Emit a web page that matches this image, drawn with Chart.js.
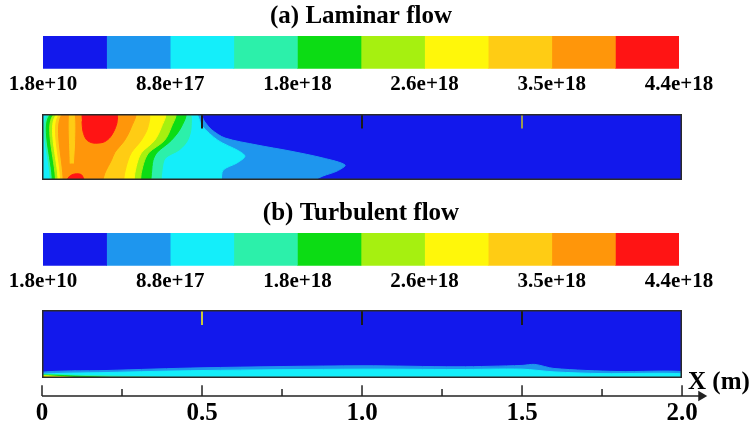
<!DOCTYPE html>
<html>
<head>
<meta charset="utf-8">
<title>Laminar vs turbulent flow</title>
<script src="https://cdn.jsdelivr.net/npm/chart.js@4.4.1/dist/chart.umd.min.js"></script>
<style>
  body { margin: 0; background: #fff; }
  #wrap { position: relative; width: 755px; height: 432px; overflow: hidden; background: #fff; }
  #wrap canvas { position: absolute; }
</style>
</head>
<body>
<div id="wrap">
  <canvas id="barA" width="755" height="100" style="left:0;top:0"></canvas>
  <canvas id="lamField" width="640" height="66" style="left:42px;top:114px"></canvas>
  <canvas id="barB" width="755" height="100" style="left:0;top:197px"></canvas>
  <canvas id="turbField" width="640" height="68" style="left:42px;top:310px"></canvas>
  <canvas id="axisX" width="755" height="72" style="left:0;top:360px"></canvas>
</div>
<script>
// ─── Data ────────────────────────────────────────────────────────────────────
const titles = ['(a) Laminar flow', '(b) Turbulent flow'];
const levelEdges = [1.8e10, 4.4e17, 8.8e17, 1.32e18, 1.76e18, 2.2e18, 2.64e18, 3.08e18, 3.52e18, 3.96e18, 4.4e18];
const levelTicks = [1.8e10, 8.8e17, 1.76e18, 2.64e18, 3.52e18, 4.4e18];
const levelTickLabels = ['1.8e+10', '8.8e+17', '1.8e+18', '2.6e+18', '3.5e+18', '4.4e+18'];
const bandColors = ['#1218ec', '#1e96ee', '#14eefa', '#2cf0aa', '#0cdc14', '#a6f010', '#fff70a', '#ffcc14', '#ff960a', '#ff1414'];

const axisTicks = [0, 0.5, 1.0, 1.5, 2.0];
const axisLabels = ['0', '0.5', '1.0', '1.5', '2.0'];
const minorTicks = [0.25, 0.75, 1.25, 1.75];
const axisName = 'X (m)';
const probeX = [0.5, 1.0, 1.5];

// contour bands, [x (m), y (fraction of height)]
const fieldBg = [[-0.01, -0.01], [-0.01, 1.01], [2.01, 1.01], [2.01, -0.01]];

const lamBand2 = [[-0.01, -0.01], [-0.01, 1.01], [0.49, 1.01], [0.509, 0.879], [0.531, 0.758], [0.572, 0.636], [0.672, 0.53], [0.775, 0.439], [0.878, 0.333], [0.947, 0.227], [0.922, 0.136], [0.878, 0.061], [0.847, -0.01]];
const lamBand3 = [[-0.01, -0.01], [-0.01, 1.01], [0.478, 1.01], [0.5, 0.82], [0.55, 0.6], [0.615, 0.44], [0.634, 0.36], [0.61, 0.26], [0.566, 0.15], [0.56, -0.01]];
const lamBand4 = [[0.026, -0.01], [0.026, 1.01], [0.458, 1.01], [0.466, 0.8], [0.455, 0.6], [0.43, 0.46], [0.385, 0.33], [0.375, 0.15], [0.372, -0.01]];
const lamBand5 = [[0.032, -0.01], [0.032, 1.01], [0.446, 1.01], [0.435, 0.8], [0.404, 0.6], [0.36, 0.42], [0.347, 0.3], [0.342, 0.1], [0.34, -0.01]];
const lamBand6 = [[0.042, -0.01], [0.042, 1.01], [0.415, 1.01], [0.404, 0.8], [0.383, 0.6], [0.335, 0.42], [0.321, 0.3], [0.31, 0.1], [0.308, -0.01]];
const lamBand7 = [[0.05, -0.01], [0.05, 1.01], [0.383, 1.01], [0.373, 0.8], [0.352, 0.6], [0.312, 0.42], [0.3, 0.3], [0.29, 0.1], [0.288, -0.01]];
const lamBand8 = [[0.058, -0.01], [0.058, 1.01], [0.331, 1.01], [0.331, 0.8], [0.31, 0.6], [0.28, 0.42], [0.269, 0.3], [0.258, 0.1], [0.255, -0.01]];
const lamBand9 = [[0.066, -0.01], [0.066, 1.01], [0.29, 1.01], [0.279, 0.8], [0.258, 0.6], [0.228, 0.42], [0.217, 0.3], [0.196, 0.1], [0.19, -0.01]];
const lamStripe = [[0.088, 0.25], [0.086, 1.01], [0.1, 1.01], [0.102, 0.6], [0.098, 0.25]];
const lamCore = [[0.123, 1.01], [0.232, 1.01], [0.235, 0.889], [0.227, 0.763], [0.211, 0.636], [0.191, 0.571], [0.159, 0.561], [0.139, 0.611], [0.128, 0.737], [0.125, 0.889]];
const lamFoot = [[0.076, -0.01], [0.086, 0.056], [0.102, 0.091], [0.123, 0.081], [0.133, -0.01]];

const turbBand2 = [[-0.01, -0.01], [-0.01, 0.08], [0.2, 0.11], [0.5, 0.15], [1.0, 0.18], [1.3, 0.165], [1.5, 0.185], [1.54, 0.2], [1.6, 0.14], [1.8, 0.095], [2.01, 0.09], [2.01, -0.01]];
const turbBand3 = [[-0.01, -0.01], [-0.01, 0.05], [0.2, 0.08], [0.5, 0.11], [1.0, 0.13], [1.3, 0.125], [1.5, 0.13], [1.6, 0.09], [1.75, 0.065], [2.01, 0.06], [2.01, -0.01]];
const turbBand4 = [[-0.01, -0.01], [-0.01, 0.05], [0.1, 0.04], [0.3, 0.02], [0.5, -0.01]];
const turbBand5 = [[-0.01, -0.01], [-0.01, 0.04], [0.12, 0.025], [0.3, -0.01]];
const turbBand7 = [[-0.01, -0.01], [-0.01, 0.03], [0.06, 0.02], [0.15, -0.01]];
const turbBand9 = [[-0.01, -0.01], [-0.01, 0.015], [0.05, -0.01]];

// [band index, polygon], painted bottom to top
const laminarShapes = [[0, fieldBg], [1, lamBand2], [2, lamBand3], [3, lamBand4], [4, lamBand5], [5, lamBand6],
    [6, lamBand7], [7, lamBand8], [8, lamBand9], [7, lamStripe], [9, lamCore], [9, lamFoot]];
const turbulentShapes = [[0, fieldBg], [1, turbBand2], [2, turbBand3], [3, turbBand4], [4, turbBand5], [6, turbBand7], [8, turbBand9]];

// ─── Defaults ────────────────────────────────────────────────────────────────
Chart.defaults.font.family = "'Liberation Serif', 'Times New Roman', serif";
Chart.defaults.font.weight = 'bold';
Chart.defaults.color = '#000';
Chart.defaults.animation = false;
Chart.defaults.responsive = false;
Chart.defaults.plugins.legend.display = false;
Chart.defaults.plugins.tooltip.enabled = false;

// ─── Colour bars ─────────────────────────────────────────────────────────────
function colorBar(id, title) {
    new Chart(document.getElementById(id), {
        type: 'bar',
        data: {
            labels: [''],
            datasets: bandColors.map((c, i) => ({
                data: [[levelEdges[i], levelEdges[i + 1]]],
                backgroundColor: c,
                borderWidth: 0,
                grouped: false,
                barPercentage: 1,
                categoryPercentage: 1
            }))
        },
        options: {
            indexAxis: 'y',
            layout: { padding: { left: 43, right: 76, top: 0, bottom: 0 } },
            plugins: {
                title: { display: true, text: title, font: { size: 25, weight: 'bold' }, padding: { top: 2, bottom: 4 } }
            },
            scales: {
                y: { display: false },
                x: {
                    type: 'linear',
                    min: levelEdges[0],
                    max: levelEdges[levelEdges.length - 1],
                    grid: { display: false, drawTicks: false },
                    border: { display: false },
                    afterBuildTicks: axis => { axis.ticks = levelTicks.map(v => ({ value: v })); },
                    ticks: { callback: (v, i) => levelTickLabels[i], font: { size: 21 }, padding: 3, maxRotation: 0, autoSkip: false }
                }
            }
        }
    });
}

// ─── Contour fields ──────────────────────────────────────────────────────────
const frame = {
    id: 'frame',
    afterDraw(chart) {
        const { ctx, chartArea: a } = chart;
        ctx.save();
        ctx.strokeStyle = '#2a2a2a';
        ctx.lineWidth = 1.5;
        ctx.strokeRect(a.left + 0.75, a.top + 0.75, a.width - 1.5, a.height - 1.5);
        ctx.restore();
    }
};

function field(id, shapes, probeColors) {
    const datasets = shapes.map(([band, pts], i) => ({
        data: pts.map(p => ({ x: p[0], y: p[1] })),
        showLine: true,
        fill: 'shape',
        backgroundColor: bandColors[band],
        borderColor: bandColors[band],
        borderWidth: 1,
        pointRadius: 0,
        tension: 0.3,
        order: shapes.length + 5 - i
    }));
    probeX.forEach((x, i) => datasets.push({
        data: [{ x, y: 1 }, { x, y: 0.78 }],
        showLine: true,
        borderColor: probeColors[i],
        borderWidth: 2,
        pointRadius: 0,
        order: 0
    }));
    new Chart(document.getElementById(id), {
        type: 'scatter',
        data: { datasets },
        options: {
            layout: { padding: 0 },
            scales: {
                x: { display: false, min: 0, max: 2 },
                y: { display: false, min: 0, max: 1 }
            }
        },
        plugins: [frame]
    });
}

// ─── X axis ──────────────────────────────────────────────────────────────────
const axisTitle = {
    id: 'axisTitle',
    afterDraw(chart) {
        const { ctx, scales: { x, y } } = chart;
        ctx.save();
        ctx.font = "bold 25px 'Liberation Serif', serif";
        ctx.fillStyle = '#000';
        ctx.textBaseline = 'middle';
        ctx.fillText(axisName, x.getPixelForValue(2.0) + 6, y.getPixelForValue(0.46));
        ctx.restore();
    }
};

function xAxis(id) {
    const tick = (x, h) => ({
        data: [{ x, y: 0 }, { x, y: h }],
        showLine: true, borderColor: '#222', borderWidth: 1.5, pointRadius: 0, clip: false
    });
    const datasets = [
        { data: [{ x: 0, y: 0 }, { x: 2.055, y: 0 }], showLine: true, borderColor: '#222', borderWidth: 1.5, pointRadius: 0, clip: false },
        { data: [{ x: 2.06, y: 0 }], pointStyle: 'triangle', rotation: 90, pointRadius: 6, backgroundColor: '#222', borderWidth: 0, clip: false },
        ...axisTicks.map(v => tick(v, 0.36)),
        ...minorTicks.map(v => tick(v, 0.23))
    ];
    new Chart(document.getElementById(id), {
        type: 'scatter',
        data: { datasets },
        options: {
            layout: { padding: { left: 42, right: 48, top: 0, bottom: 0 } },
            scales: {
                y: { display: false, min: 0, max: 1 },
                x: {
                    min: 0, max: 2.078,
                    grid: { display: false, drawTicks: false },
                    border: { display: false },
                    afterBuildTicks: axis => { axis.ticks = axisTicks.map(v => ({ value: v })); },
                    ticks: { callback: (v, i) => axisLabels[i], font: { size: 25 }, padding: 3, maxRotation: 0, autoSkip: false }
                }
            }
        },
        plugins: [axisTitle]
    });
}

colorBar('barA', titles[0]);
colorBar('barB', titles[1]);
field('lamField', laminarShapes, ['#1a1a1a', '#1a1a1a', '#9a9a50']);
field('turbField', turbulentShapes, ['#c8c83c', '#1a1a1a', '#1a1a1a']);
xAxis('axisX');
</script>
</body>
</html>
